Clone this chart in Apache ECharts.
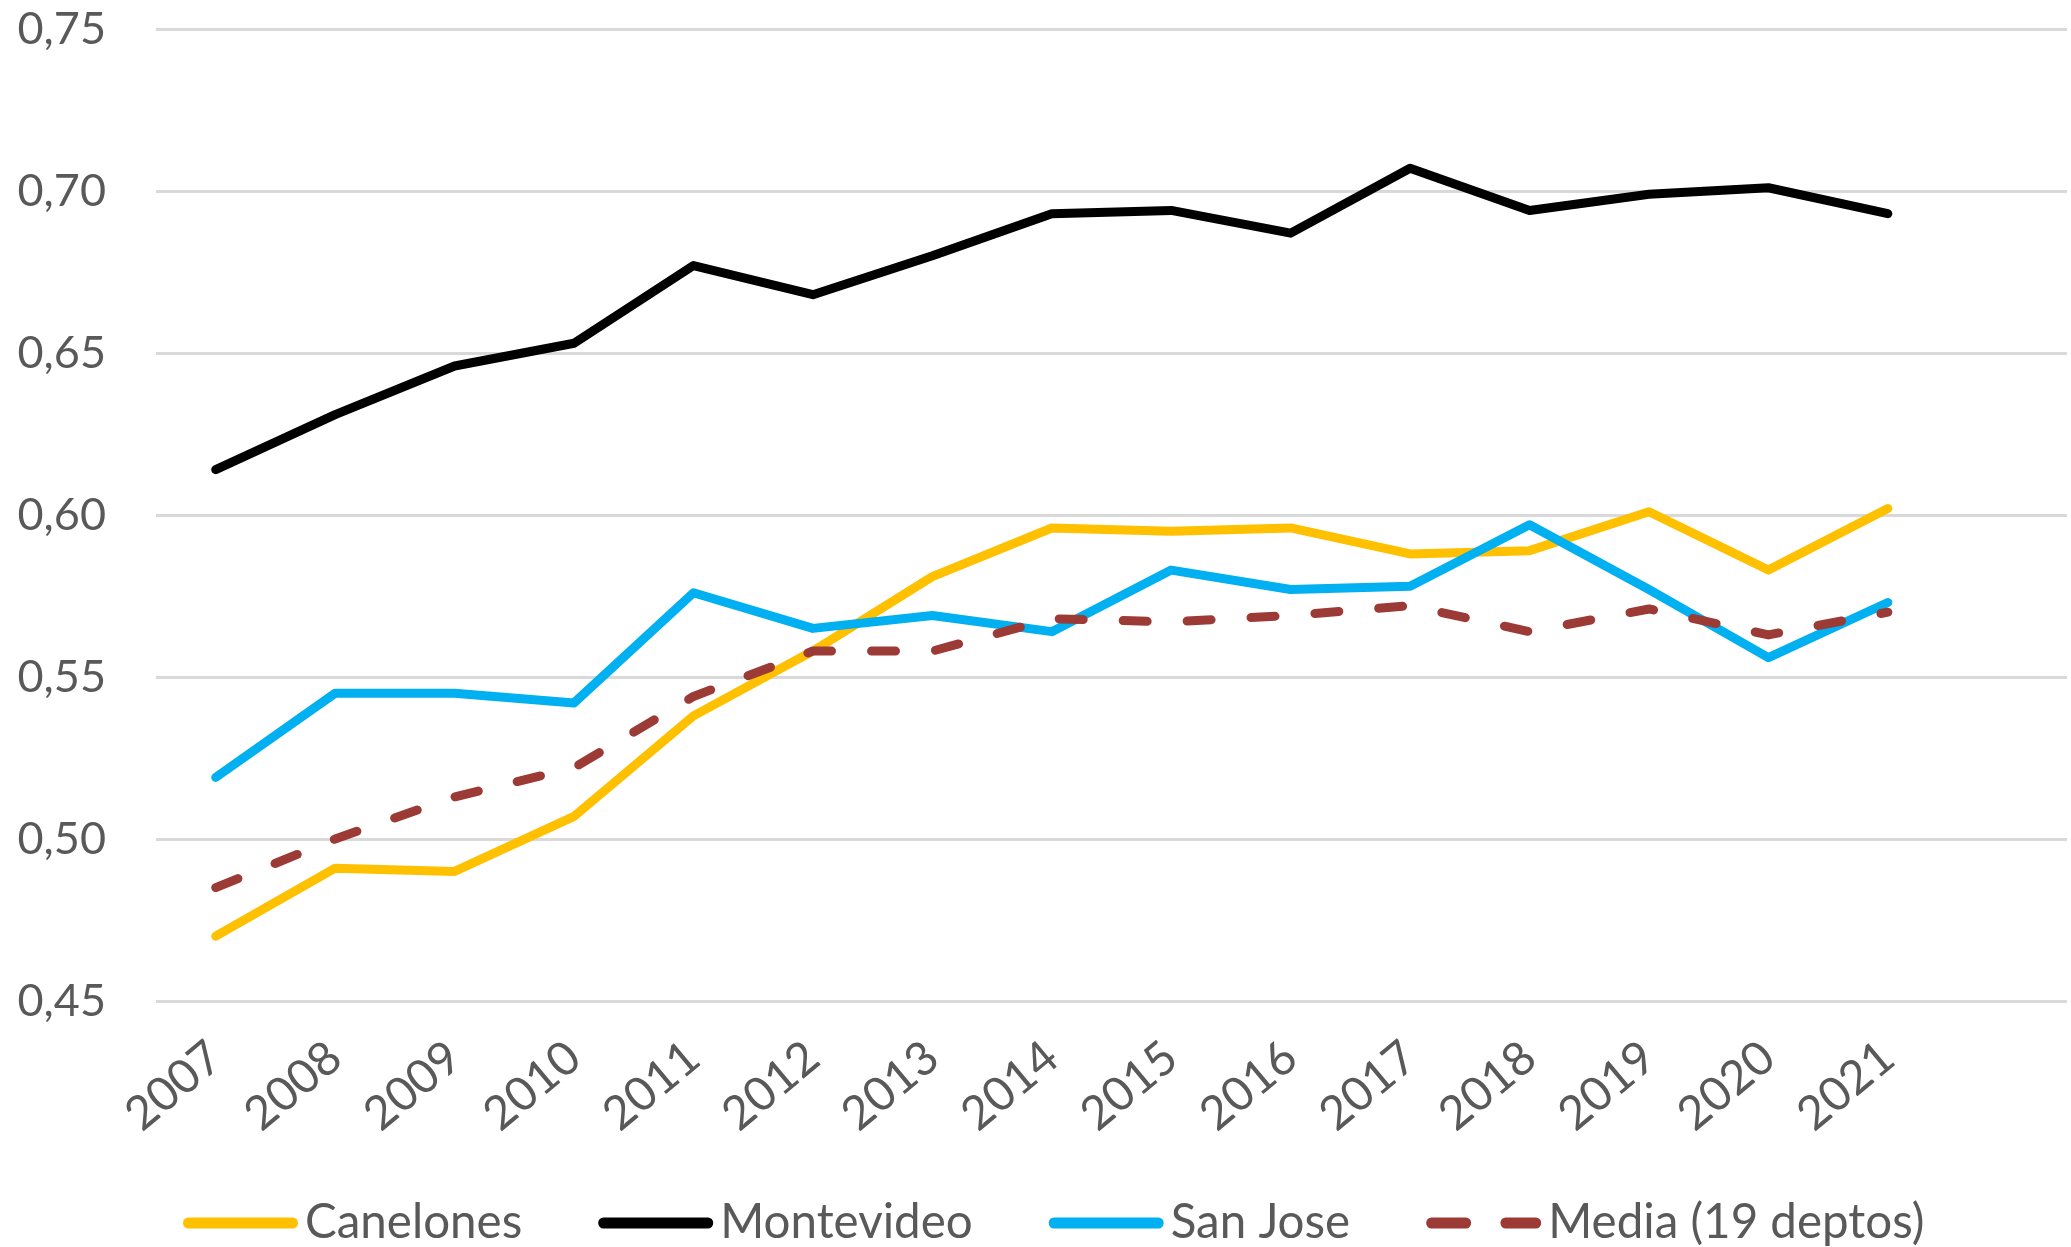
<!DOCTYPE html>
<html>
<head>
<meta charset="utf-8">
<script src="https://cdn.jsdelivr.net/npm/echarts@6/dist/echarts.min.js"></script>
<style>
html,body{margin:0;padding:0;background:#fff;}
#chart{width:2071px;height:1247px;}
</style>
</head>
<body>
<div id="chart"></div>
<script>
var years = ['2007','2008','2009','2010','2011','2012','2013','2014','2015','2016','2017','2018','2019','2020','2021',''];
var canelones  = [0.470,0.491,0.490,0.507,0.538,0.558,0.581,0.596,0.595,0.596,0.588,0.589,0.601,0.583,0.602];
var montevideo = [0.614,0.631,0.646,0.653,0.677,0.668,0.680,0.693,0.694,0.687,0.707,0.694,0.699,0.701,0.693];
var sanJose    = [0.519,0.545,0.545,0.542,0.576,0.565,0.569,0.564,0.583,0.577,0.578,0.597,0.577,0.556,0.573];
var media      = [0.485,0.500,0.513,0.522,0.544,0.558,0.558,0.568,0.567,0.569,0.572,0.564,0.571,0.563,0.570];
var yMin = 0.45, yMax = 0.75, yStep = 0.05;

var FONT = 'Lato';
var TXT = '#595959';
var chart = echarts.init(document.getElementById('chart'), null, {renderer:'canvas'});

var SOLID_ICON = 'path://M5,0 H105 A5,5 0 0 1 105,10 H5 A5,5 0 0 1 5,0 Z';
var DASH_ICON = 'path://M5,0 H38 A5,5 0 0 1 38,10 H5 A5,5 0 0 1 5,0 Z M76,0 H105 A5,5 0 0 1 105,10 H76 A5,5 0 0 1 76,0 Z';

function lineSeries(name, data, color, dashed){
  return {
    name: name, type: 'line', data: data, symbol: 'none', smooth: false,
    lineStyle: {color: color, width: 9, type: dashed ? [24, 40] : 'solid', cap: 'round', join: 'round'},
    itemStyle: {color: color},
    emphasis: {disabled: true},
    animation: false
  };
}

chart.setOption({
  animation: false,
  backgroundColor: '#fff',
  grid: {left: 156, right: 4, top: 29, bottom: 246, containLabel: false},
  xAxis: {
    type: 'category', data: years, boundaryGap: true,
    axisLine: {show: false}, axisTick: {show: false},
    axisLabel: {rotate: 40, margin: 50, color: TXT, fontFamily: FONT, fontSize: 47, interval: 0}
  },
  yAxis: {
    type: 'value', min: yMin, max: yMax, interval: yStep,
    axisLine: {show: false}, axisTick: {show: false},
    axisLabel: {margin: 50, color: TXT, fontFamily: FONT, fontSize: 45,
      formatter: function(v){ return v.toFixed(2).replace('.', ','); }},
    splitLine: {lineStyle: {color: '#D9D9D9', width: 3}}
  },
  legend: {
    top: 1190, left: 178, itemWidth: 115, itemHeight: 11, itemGap: 76,
    symbolKeepAspect: false,
    textStyle: {color: TXT, fontFamily: FONT, fontSize: 47.5, lineHeight: 56, padding: [0,0,0,2]},
    data: [
      {name: 'Canelones', icon: SOLID_ICON, itemStyle: {color: '#FFC000'}},
      {name: 'Montevideo', icon: SOLID_ICON, itemStyle: {color: '#000000'}},
      {name: 'San Jose', icon: SOLID_ICON, itemStyle: {color: '#00B0F0'}},
      {name: 'Media (19 deptos)', icon: DASH_ICON, itemStyle: {color: '#9C3A36'}}
    ]
  },
  series: [
    lineSeries('Canelones', canelones, '#FFC000', false),
    lineSeries('Montevideo', montevideo, '#000000', false),
    lineSeries('San Jose', sanJose, '#00B0F0', false),
    lineSeries('Media (19 deptos)', media, '#9C3A36', true)
  ]
});
</script>
</body>
</html>
